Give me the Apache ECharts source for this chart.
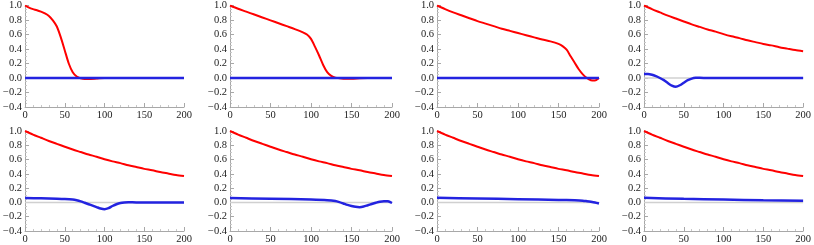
<!DOCTYPE html>
<html>
<head>
<meta charset="utf-8">
<script src="https://cdn.jsdelivr.net/npm/echarts@6/dist/echarts.min.js"></script>
<style>html,body{margin:0;padding:0;background:#fff}#c{width:814px;height:245px}</style>
</head>
<body>
<div id="c"></div>
<script>
// ---- data ----
const xTicks = [0, 50, 100, 150, 200];
const yTicks = [-0.4, -0.2, 0.0, 0.2, 0.4, 0.6, 0.8, 1.0];

// decaying red curve (panels 4-8)
const redDecayT = [0,10,20,30,40,50,60,70,80,90,100,110,120,130,140,150,160,170,180,190,200];
const redDecayV = [1.0,0.95,0.905,0.86,0.82,0.78,0.74,0.705,0.67,0.64,0.605,0.575,0.55,0.52,0.495,0.47,0.45,0.425,0.405,0.385,0.37];

const red1T = [0,5,10,15,20,25,30,35,40,45,50,55,60,65,70,75,80,90,100,150,200];
const red1V = [1.0,0.97,0.95,0.935,0.915,0.89,0.855,0.795,0.71,0.56,0.38,0.2,0.08,0.02,-0.005,-0.015,-0.015,-0.008,0,0,0];

const red2T = [0,10,20,30,40,50,60,70,80,90,95,100,105,110,115,120,125,130,140,150,160,170,200];
const red2V = [1.0,0.955,0.915,0.875,0.835,0.795,0.755,0.715,0.675,0.63,0.6,0.54,0.43,0.31,0.18,0.08,0.03,0.005,-0.01,-0.01,-0.003,0,0];

const red3T = [0,10,20,30,40,50,60,70,80,90,100,110,120,130,140,150,155,160,165,170,175,180,185,190,195,200];
const red3V = [1.0,0.95,0.905,0.865,0.825,0.785,0.75,0.715,0.68,0.65,0.62,0.59,0.56,0.53,0.505,0.47,0.44,0.39,0.3,0.21,0.12,0.05,0.0,-0.03,-0.035,0.0];

const blueFlatT = [0,200];
const blueFlatV = [0,0];

const blue4T = [0,5,10,15,20,25,30,35,40,45,50,55,60,65,70,80,200];
const blue4V = [0.055,0.055,0.045,0.025,0.0,-0.03,-0.07,-0.105,-0.12,-0.1,-0.065,-0.03,-0.008,0.002,0.003,0.0,0.0];

const blue5T = [0,20,40,50,60,65,70,75,80,85,90,95,100,105,110,115,120,125,130,140,200];
const blue5V = [0.062,0.058,0.052,0.048,0.04,0.03,0.015,-0.005,-0.025,-0.045,-0.065,-0.085,-0.095,-0.08,-0.05,-0.025,-0.008,0.0,0.003,0.0,0.0];

const blue6T = [0,50,100,120,130,135,140,145,150,155,160,165,170,175,180,185,190,195,200];
const blue6V = [0.062,0.052,0.04,0.032,0.02,0.005,-0.015,-0.035,-0.05,-0.062,-0.066,-0.058,-0.04,-0.022,-0.005,0.01,0.017,0.015,-0.008];

const blue7T = [0,50,100,150,170,180,185,190,195,200];
const blue7V = [0.065,0.055,0.045,0.035,0.03,0.025,0.018,0.01,0.0,-0.015];

const blue8T = [0,50,100,150,200];
const blue8V = [0.065,0.05,0.04,0.03,0.022];

const panels = [
  {rt: red1T, rv: red1V, bt: blueFlatT, bv: blueFlatV},
  {rt: red2T, rv: red2V, bt: blueFlatT, bv: blueFlatV},
  {rt: red3T, rv: red3V, bt: blueFlatT, bv: blueFlatV},
  {rt: redDecayT, rv: redDecayV, bt: blue4T, bv: blue4V},
  {rt: redDecayT, rv: redDecayV, bt: blue5T, bv: blue5V},
  {rt: redDecayT, rv: redDecayV, bt: blue6T, bv: blue6V},
  {rt: redDecayT, rv: redDecayV, bt: blue7T, bv: blue7V},
  {rt: redDecayT, rv: redDecayV, bt: blue8T, bv: blue8V}
];

// ---- layout ----
const lefts = [22, 230, 437, 644];
const widths = [162, 162, 162, 163];
const tops = [5, 131];
const heights = [102, 101];
const FONT = '"Liberation Serif", "DejaVu Serif", serif';
const axisCol = '#a8a8a8';

const zip = (a, b) => a.map((x, i) => [x, b[i]]);

const grid = [], xAxis = [], yAxis = [], series = [];
panels.forEach((p, i) => {
  const r = Math.floor(i / 4), c = i % 4;
  grid.push({left: lefts[c], top: tops[r], width: widths[c], height: heights[r], containLabel: false});
  xAxis.push({
    type: 'value', gridIndex: i, min: xTicks[0], max: xTicks[xTicks.length - 1], interval: 50,
    axisLine: {show: true, onZero: false, lineStyle: {color: axisCol, width: 1}},
    axisTick: {show: true, inside: true, length: 4, lineStyle: {color: axisCol}},
    minorTick: {show: true, splitNumber: 5, length: 2, lineStyle: {color: '#c8c8c8'}},
    splitLine: {show: false},
    axisLabel: {show: true, margin: 3, color: '#222', fontFamily: FONT, fontSize: 10.5,
                showMinLabel: true, showMaxLabel: true,
                formatter: v => xTicks.includes(v) ? String(v) : ''}
  });
  yAxis.push({
    type: 'value', gridIndex: i, min: yTicks[0], max: yTicks[yTicks.length - 1], interval: 0.2,
    axisLine: {show: true, onZero: false, lineStyle: {color: axisCol, width: 1}},
    axisTick: {show: true, inside: true, length: 4, lineStyle: {color: axisCol}},
    minorTick: {show: true, splitNumber: 4, length: 2, lineStyle: {color: '#c8c8c8'}},
    splitLine: {show: false},
    axisLabel: {show: true, margin: 3, color: '#222', fontFamily: FONT, fontSize: 10.5,
                showMinLabel: true, showMaxLabel: true,
                formatter: v => { const t = Math.round(v * 10) / 10; return (t < 0 ? '\u2212' : '') + Math.abs(t).toFixed(1); }}
  });
  series.push({
    type: 'line', xAxisIndex: i, yAxisIndex: i, data: zip([0, 200], [0, 0]),
    symbol: 'none', silent: true, z: 1,
    lineStyle: {color: '#d0d0d0', width: 1.5}
  });
  series.push({
    type: 'line', xAxisIndex: i, yAxisIndex: i, data: zip(p.rt, p.rv),
    symbol: 'none', smooth: 0.25, z: 2, clip: true,
    lineStyle: {color: '#ff0000', width: 2}
  });
  series.push({
    type: 'line', xAxisIndex: i, yAxisIndex: i, data: zip(p.bt, p.bv),
    symbol: 'none', smooth: 0.25, z: 3, clip: true,
    lineStyle: {color: '#2323e0', width: 2.5}
  });
});

const chart = echarts.init(document.getElementById('c'), null, {renderer: 'canvas'});
chart.setOption({animation: false, grid, xAxis, yAxis, series});
</script>
</body>
</html>
